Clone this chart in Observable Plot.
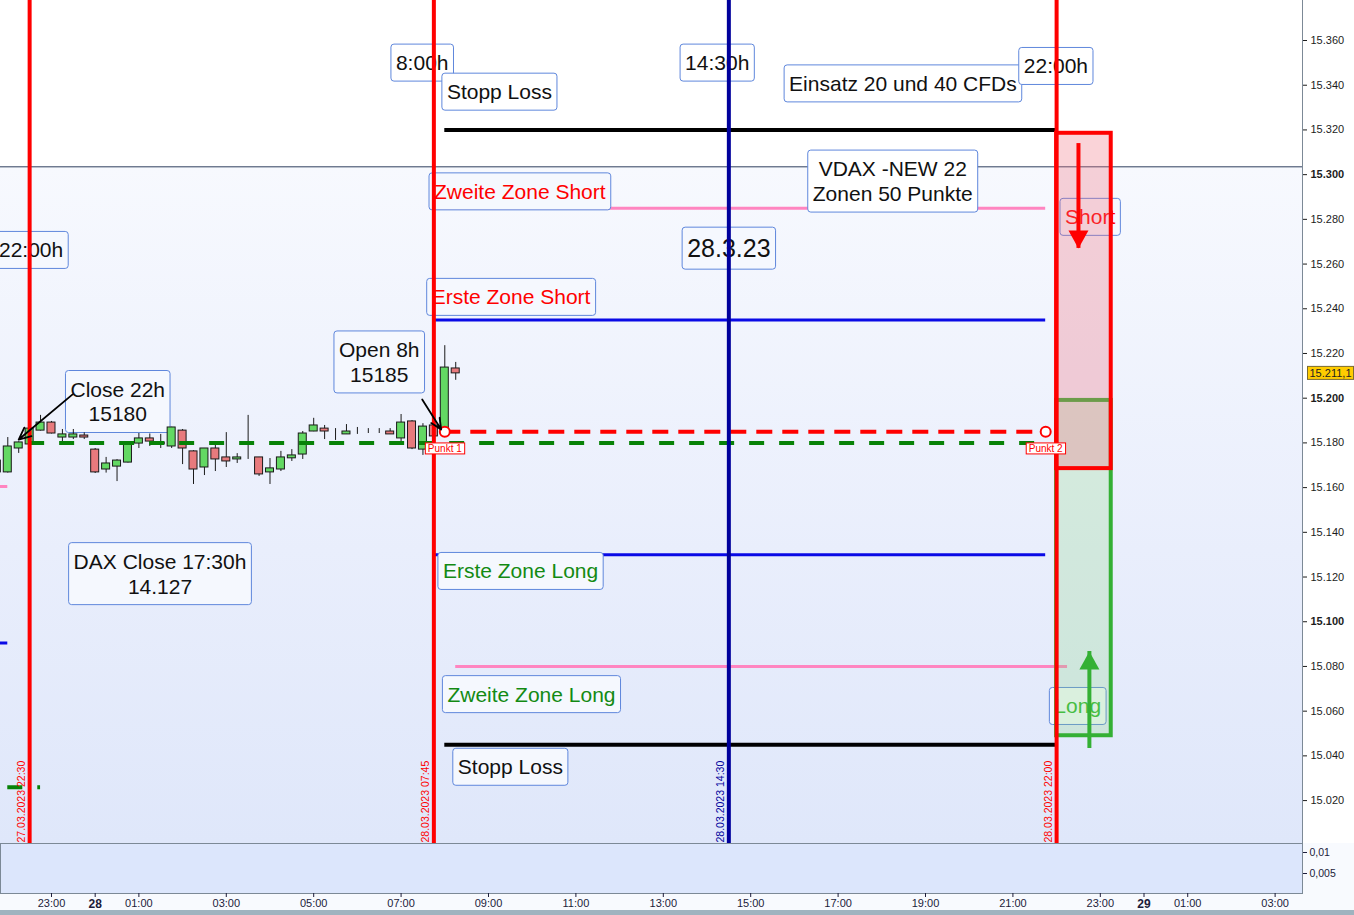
<!DOCTYPE html>
<html>
<head>
<meta charset="utf-8">
<script src="https://cdn.jsdelivr.net/npm/d3@7"></script>
<script src="https://cdn.jsdelivr.net/npm/@observablehq/plot@0.6"></script>
<style>
  html, body { margin: 0; padding: 0; background: #ffffff; }
  #chart { width: 1354px; height: 915px; overflow: hidden; }
  #chart svg { display: block; max-width: none; }
</style>
</head>
<body>
<div id="chart"></div>
<script>
const FONT = "'Liberation Sans', Arial, sans-serif";
const T = s => new Date(s + "Z");

// 15-minute DAX candles, 27.03.2023 21:45 – 28.03.2023 08:15
const candleTime = [
  "2023-03-27T21:45","2023-03-27T22:00","2023-03-27T22:15","2023-03-27T22:30","2023-03-27T22:45",
  "2023-03-27T23:00","2023-03-27T23:15","2023-03-27T23:30","2023-03-27T23:45",
  "2023-03-28T00:00","2023-03-28T00:15","2023-03-28T00:30","2023-03-28T00:45",
  "2023-03-28T01:00","2023-03-28T01:15","2023-03-28T01:30","2023-03-28T01:45",
  "2023-03-28T02:00","2023-03-28T02:15","2023-03-28T02:30","2023-03-28T02:45",
  "2023-03-28T03:00","2023-03-28T03:15","2023-03-28T03:30","2023-03-28T03:45",
  "2023-03-28T04:00","2023-03-28T04:15","2023-03-28T04:30","2023-03-28T04:45",
  "2023-03-28T05:00","2023-03-28T05:15","2023-03-28T05:30","2023-03-28T05:45",
  "2023-03-28T06:00","2023-03-28T06:15","2023-03-28T06:30","2023-03-28T06:45",
  "2023-03-28T07:00","2023-03-28T07:15","2023-03-28T07:30","2023-03-28T07:45",
  "2023-03-28T08:00","2023-03-28T08:15"
];
const candleOpen = [
  15166.8, 15166.8, 15177.5, 15179.3, 15185.5,
  15189.1, 15182.4, 15182.4, 15183.3,
  15177.0, 15168.1, 15169.4, 15171.2,
  15179.7, 15182.0, 15180.2, 15178.4,
  15185.5, 15176.2, 15169.0, 15177.5,
  15173.5, 15172.6, 15173.0, 15173.5,
  15166.8, 15168.1, 15173.1, 15174.8,
  15185.1, 15186.4, 15184.6, 15183.8,
  15185.5, 15185.5, 15185.3, 15185.1,
  15182.0, 15189.6, 15177.0, 15187.8,
  15185.0, 15213.3
];
const candleHigh = [
  15173.0, 15182.4, 15180.5, 15187.0, 15192.3,
  15189.6, 15186.0, 15186.0, 15184.5,
  15177.5, 15173.5, 15172.5, 15180.0,
  15184.2, 15184.0, 15183.8, 15187.0,
  15186.0, 15176.5, 15177.5, 15179.3,
  15184.6, 15175.2, 15192.3, 15173.5,
  15173.0, 15176.2, 15177.0, 15185.1,
  15191.0, 15187.8, 15186.4, 15188.2,
  15186.9, 15186.4, 15186.4, 15186.4,
  15192.7, 15190.0, 15188.6, 15188.0,
  15223.5, 15216.0
];
const candleLow = [
  15166.0, 15166.5, 15175.3, 15179.0, 15185.3,
  15184.0, 15179.3, 15181.5, 15181.5,
  15166.3, 15166.5, 15162.7, 15171.0,
  15177.5, 15178.4, 15177.5, 15177.5,
  15170.3, 15161.4, 15165.4, 15167.2,
  15169.0, 15170.8, 15172.6, 15165.0,
  15161.4, 15167.2, 15171.7, 15172.6,
  15185.0, 15181.5, 15181.1, 15183.8,
  15183.8, 15184.2, 15184.2, 15183.8,
  15179.3, 15177.0, 15174.4, 15182.4,
  15185.0, 15208.0
];
const candleClose = [
  15172.1, 15178.4, 15180.2, 15186.4, 15189.1,
  15184.2, 15183.8, 15183.8, 15182.4,
  15166.8, 15170.8, 15172.1, 15179.7,
  15182.0, 15180.6, 15179.3, 15186.9,
  15177.5, 15168.1, 15177.5, 15172.6,
  15171.7, 15173.5, 15173.0, 15165.9,
  15168.6, 15173.5, 15174.4, 15184.2,
  15187.8, 15185.1, 15184.6, 15185.1,
  15185.5, 15185.5, 15185.3, 15183.8,
  15189.1, 15177.5, 15187.3, 15182.9,
  15213.7, 15211.1
];

// Trading zones for 28.03.2023 (VDAX-NEW 22 -> zones of 50 points)
const levelName  = ["Stopp Loss Short", "Zweite Zone Short", "Erste Zone Short", "Erste Zone Long", "Zweite Zone Long", "Stopp Loss Long"];
const levelKind  = ["stop", "second", "first", "first", "second", "stop"];
const levelPrice = [15320, 15285, 15235, 15130, 15080, 15045];
const levelStart = ["2023-03-28T08:00", "2023-03-28T07:45", "2023-03-28T07:45", "2023-03-28T07:45", "2023-03-28T08:15", "2023-03-28T08:00"];
const levelEnd   = ["2023-03-28T22:00", "2023-03-28T21:45", "2023-03-28T21:45", "2023-03-28T21:45", "2023-03-28T22:15", "2023-03-28T22:00"];

// Leftovers of the previous session's zones
const priorKind  = ["second", "first"];
const priorPrice = [15160.5, 15090.5];
const priorStart = ["2023-03-27T14:30", "2023-03-27T14:30"];
const priorEnd   = ["2023-03-27T22:00", "2023-03-27T22:00"];
const priorDashPrice = 15026;
const priorDashSpan = ["2023-03-27T22:00", "2023-03-27T22:45"];
const dayLine = 15303.5;

// Reference prices: Close 22h and Open 8h
const closeRef = 15180, closeSpan = ["2023-03-27T22:30", "2023-03-28T21:45"];
const openRef = 15185, openSpan = ["2023-03-28T08:00", "2023-03-28T21:45"];
const punktLabel = ["Punkt 1", "Punkt 2"];
const punktTime = ["2023-03-28T08:00", "2023-03-28T21:45"];

// Vertical time markers
const markerTime = ["2023-03-27T22:30", "2023-03-28T07:45", "2023-03-28T14:30", "2023-03-28T22:00"];
const markerKind = ["session", "session", "us", "session"];

// Target zones at the session end
const zoneName = ["Short", "Long"];
const zoneStart = ["2023-03-28T22:00", "2023-03-28T22:00"];
const zoneEnd = ["2023-03-28T23:15", "2023-03-28T23:15"];
const zoneTop = [15318.5, 15199];
const zoneBottom = [15168.5, 15049];
const zoneArrowTime = ["2023-03-28T22:30", "2023-03-28T22:45"];
const zoneArrowFrom = [15313.9, 15043.3];
const zoneArrowTo = [15267.0, 15086.7];

// Annotations
const labelText = [
  "8:00h", "Stopp Loss", "14:30h", "Einsatz 20 und 40 CFDs", "22:00h",
  "VDAX -NEW 22\nZonen 50 Punkte", "Zweite Zone Short", "Short", "28.3.23", "22:00h",
  "Erste Zone Short", "Open 8h\n15185", "Close 22h\n15180", "DAX Close 17:30h\n14.127",
  "Erste Zone Long", "Zweite Zone Long", "Long", "Stopp Loss"
];
const labelTime = [
  "2023-03-28T07:29", "2023-03-28T09:15", "2023-03-28T14:14", "2023-03-28T18:29", "2023-03-28T21:59",
  "2023-03-28T18:15", "2023-03-28T09:43", "2023-03-28T22:46", "2023-03-28T14:30", "2023-03-27T22:32",
  "2023-03-28T09:31", "2023-03-28T06:30", "2023-03-28T00:31", "2023-03-28T01:29",
  "2023-03-28T09:44", "2023-03-28T09:59", "2023-03-28T22:29", "2023-03-28T09:30"
];
const labelPrice = [
  15349, 15336, 15349, 15339.7, 15347.5,
  15296, 15291.4, 15280, 15266, 15265.2,
  15244.2, 15215.1, 15197.4, 15120.4,
  15121.6, 15066.5, 15061.2, 15034
];
const labelRole = [
  "info", "info", "info", "info", "info",
  "info", "short", "shortZone", "date", "info",
  "short", "info", "info", "info",
  "long", "long", "longZone", "info"
];
const pointerFromTime = ["2023-03-27T23:29", "2023-03-28T07:29"];
const pointerFromPrice = [15201.7, 15199.4];
const pointerToTime = ["2023-03-27T22:15", "2023-03-28T07:55"];
const pointerToPrice = [15181.5, 15186];

// Time axis
const hourTicks = [
  "2023-03-27T23:00", "2023-03-28T01:00", "2023-03-28T03:00", "2023-03-28T05:00", "2023-03-28T07:00",
  "2023-03-28T09:00", "2023-03-28T11:00", "2023-03-28T13:00", "2023-03-28T15:00", "2023-03-28T17:00",
  "2023-03-28T19:00", "2023-03-28T21:00", "2023-03-28T23:00", "2023-03-29T01:00", "2023-03-29T03:00"
];
const dayTicks = ["2023-03-28T00:00", "2023-03-29T00:00"];
const priceTicks = [15020, 15040, 15060, 15080, 15100, 15120, 15140, 15160, 15180, 15200,
                    15220, 15240, 15260, 15280, 15300, 15320, 15340, 15360, 15380];
const volumeTicks = [0.005, 0.01];

// ---- build tables -------------------------------------------------------
const candles = candleTime.map((t, i) => ({
  t: T(t), open: candleOpen[i], high: candleHigh[i], low: candleLow[i], close: candleClose[i]
}));
const halfBody = 5.5 * 60e3; // half the candle body width, in ms
const body = {
  x1: d => new Date(+d.t - halfBody), x2: d => new Date(+d.t + halfBody),
  y1: "open", y2: "close", stroke: "#1a1a1a", strokeWidth: 1, clip: true
};
const levels = levelName.map((n, i) => ({name: n, kind: levelKind[i], price: levelPrice[i], start: T(levelStart[i]), end: T(levelEnd[i])}));
const prior = priorKind.map((k, i) => ({kind: k, price: priorPrice[i], start: T(priorStart[i]), end: T(priorEnd[i])}));
const markers = markerTime.map((t, i) => ({t: T(t), kind: markerKind[i]}));
const zones = zoneName.map((n, i) => ({name: n, start: T(zoneStart[i]), end: T(zoneEnd[i]), top: zoneTop[i], bottom: zoneBottom[i],
  at: T(zoneArrowTime[i]), from: zoneArrowFrom[i], to: zoneArrowTo[i]}));
const labels = labelText.map((s, i) => ({text: s, t: T(labelTime[i]), p: labelPrice[i], role: labelRole[i]}));
const pointers = pointerFromTime.map((t, i) => ({t1: T(t), p1: pointerFromPrice[i], t2: T(pointerToTime[i]), p2: pointerToPrice[i]}));
const punkte = punktLabel.map((s, i) => ({text: s, t: T(punktTime[i]), p: openRef}));

const de = d3.formatLocale({decimal: ",", thousands: ".", grouping: [3], currency: ["", " €"]});
const fmtPrice = de.format(",d");
const fmtTag = de.format(",.1f");
const fmtSmall = de.format("~g");
const fmtStamp = d3.utcFormat("%d.%m.%Y %H:%M");
const fmtHour = d3.utcFormat("%H:%M");
const fmtDay = d3.utcFormat("%-d");

const xDomain = [T("2023-03-27T21:50"), T("2023-03-29T03:37:36")];
const yDomain = [15000.8, 15377.9];
const lastClose = candleClose[candleClose.length - 1];

const C = {
  up: "#63d863", down: "#e87a7d", red: "#ff0000", navy: "#00009c", blue: "#0a0ae6",
  pink: "#ff85c0", black: "#000000", green: "#078207", zoneGreen: "#34b034", text: "#111111"
};
const roleFill = {info: C.text, date: C.text, short: C.red, shortZone: C.red, long: "#138a13", longZone: "#2fb52f"};
const labelMark = (role, extra = {}) => Plot.text(labels.filter(d => d.role === role), {
  x: "t", y: "p", text: "text", fill: roleFill[role], fontSize: 21, lineHeight: 1.19,
  lineAnchor: "middle", textAnchor: "middle", dy: -3, ...extra
});

// ---- main price panel ---------------------------------------------------
const main = Plot.plot({
  width: 1354, height: 843,
  marginTop: 0, marginRight: 52, marginBottom: 0, marginLeft: 0,
  x: {type: "utc", domain: xDomain, axis: null},
  y: {domain: yDomain, axis: null},
  style: {fontFamily: FONT, background: "transparent", color: "#1c1c1c"},
  marks: [
    Plot.ruleY([dayLine], {stroke: "#30405e", strokeWidth: 1}),
    // previous session leftovers
    Plot.ruleY(prior.filter(d => d.kind === "second"), {y: "price", x1: "start", x2: "end", stroke: C.pink, strokeWidth: 3, clip: true}),
    Plot.ruleY(prior.filter(d => d.kind === "first"), {y: "price", x1: "start", x2: "end", stroke: C.blue, strokeWidth: 3, clip: true}),
    Plot.ruleY([priorDashPrice], {x1: () => T(priorDashSpan[0]), x2: () => T(priorDashSpan[1]), stroke: C.green, strokeWidth: 4, strokeDasharray: "15,15"}),
    // zones of the day
    Plot.ruleY(levels.filter(d => d.kind === "second"), {y: "price", x1: "start", x2: "end", stroke: C.pink, strokeWidth: 3}),
    Plot.ruleY(levels.filter(d => d.kind === "first"), {y: "price", x1: "start", x2: "end", stroke: C.blue, strokeWidth: 3}),
    Plot.ruleY(levels.filter(d => d.kind === "stop"), {y: "price", x1: "start", x2: "end", stroke: C.black, strokeWidth: 4}),
    // annotations (framed afterwards)
    labelMark("info"),
    labelMark("date", {fontSize: 25}),
    labelMark("short"),
    labelMark("long"),
    labelMark("shortZone"),
    labelMark("longZone"),
    // target zones
    Plot.rect(zones.filter(d => d.name === "Long"), {x1: "start", x2: "end", y1: "bottom", y2: "top",
      fill: "rgb(139,214,127)", fillOpacity: 0.25, stroke: C.zoneGreen, strokeWidth: 4}),
    Plot.rect(zones.filter(d => d.name === "Short"), {x1: "start", x2: "end", y1: "bottom", y2: "top",
      fill: "rgb(240,110,125)", fillOpacity: 0.3, stroke: C.red, strokeWidth: 4}),
    // candles
    Plot.ruleX(candles, {x: "t", y1: "low", y2: "high", stroke: "#1a1a1a", strokeWidth: 1, clip: true}),
    Plot.rect(candles.filter(d => d.close > d.open), {...body, fill: C.up}),
    Plot.rect(candles.filter(d => d.close < d.open), {...body, fill: C.down}),
    Plot.rect(candles.filter(d => d.close === d.open), {...body, fill: "#1a1a1a"}),
    // reference lines
    Plot.ruleY([closeRef], {x1: () => T(closeSpan[0]), x2: () => T(closeSpan[1]), stroke: C.green, strokeWidth: 4, strokeDasharray: "15,15"}),
    Plot.ruleY([openRef], {x1: () => T(openSpan[0]), x2: () => T(openSpan[1]), stroke: C.red, strokeWidth: 4, strokeDasharray: "16,10"}),
    // vertical time markers
    Plot.ruleX(markers.filter(d => d.kind === "session"), {x: "t", stroke: C.red, strokeWidth: 4}),
    Plot.ruleX(markers.filter(d => d.kind === "us"), {x: "t", stroke: C.navy, strokeWidth: 4}),
    Plot.text(markers.filter(d => d.kind === "session"), {x: "t", frameAnchor: "bottom", text: d => fmtStamp(d.t),
      rotate: -90, textAnchor: "start", dx: -5, dy: -1, fill: C.red, fontSize: 10.5}),
    Plot.text(markers.filter(d => d.kind === "us"), {x: "t", frameAnchor: "bottom", text: d => fmtStamp(d.t),
      rotate: -90, textAnchor: "start", dx: -5, dy: -1, fill: C.navy, fontSize: 10.5}),
    // zone arrows
    Plot.ruleX(zones.filter(d => d.name === "Short"), {x: "at", y1: "from", y2: "to", stroke: C.red, strokeWidth: 4}),
    Plot.dot(zones.filter(d => d.name === "Short"), {x: "at", y: "to", fill: C.red, stroke: "none",
      symbol: {draw(ctx) { ctx.moveTo(-10, -18); ctx.lineTo(10, -18); ctx.lineTo(0, 0); ctx.closePath(); }}}),
    Plot.ruleX(zones.filter(d => d.name === "Long"), {x: "at", y1: "from", y2: "to", stroke: C.zoneGreen, strokeWidth: 4}),
    Plot.dot(zones.filter(d => d.name === "Long"), {x: "at", y: "to", fill: C.zoneGreen, stroke: "none",
      symbol: {draw(ctx) { ctx.moveTo(-10, 18); ctx.lineTo(10, 18); ctx.lineTo(0, 0); ctx.closePath(); }}}),
    // Punkt 1 / Punkt 2
    Plot.dot(punkte, {x: "t", y: "p", r: 5, fill: "white", stroke: C.red, strokeWidth: 2}),
    Plot.text(punkte, {x: "t", y: "p", text: "text", dy: 17, fill: C.red, fontSize: 10}),
    // pointers from the text boxes
    Plot.arrow(pointers, {x1: "t1", y1: "p1", x2: "t2", y2: "p2", stroke: "#000", strokeWidth: 1.8, headLength: 11, headAngle: 50}),
    // price scale on the right
    Plot.ruleX([xDomain[1]], {stroke: "#7c8996", strokeWidth: 1}),
    Plot.axisY(priceTicks.filter(v => v % 100 !== 0), {anchor: "right", tickSize: 4, tickPadding: 4, fontSize: 11, tickFormat: fmtPrice, label: null}),
    Plot.axisY(priceTicks.filter(v => v % 100 === 0), {anchor: "right", tickSize: 4, tickPadding: 4, fontSize: 11, fontWeight: "bold", tickFormat: fmtPrice, label: null}),
    Plot.text([lastClose], {y: d => d, frameAnchor: "right", text: d => fmtTag(d), dx: 7, textAnchor: "start", fontSize: 11, fill: "#222"})
  ]
});

// ---- lower indicator panel with the time axis ---------------------------
const lower = Plot.plot({
  width: 1354, height: 72,
  marginTop: 0, marginRight: 52, marginBottom: 22, marginLeft: 0,
  x: {type: "utc", domain: xDomain, axis: null},
  y: {domain: [0.00024, 0.01214], axis: null},
  style: {fontFamily: FONT, background: "transparent", color: "#1c1c3a"},
  marks: [
    Plot.frame({fill: "#dce6fc", stroke: "#7c8996"}),
    Plot.axisY(volumeTicks, {anchor: "right", tickSize: 4, tickPadding: 3, fontSize: 10.5, tickFormat: fmtSmall, label: null}),
    Plot.axisX(hourTicks.map(T), {anchor: "bottom", tickSize: 4, tickPadding: 2, fontSize: 11, tickFormat: fmtHour, label: null}),
    Plot.axisX(dayTicks.map(T), {anchor: "bottom", tickSize: 4, tickPadding: 2, fontSize: 12, fontWeight: "bold", tickFormat: fmtDay, label: null})
  ]
});

const chart = document.getElementById("chart");
chart.appendChild(main);
chart.appendChild(lower);

// background bands: white above the day line, light blue gradient below
const splitY = main.scale("y").apply(dayLine);
const rightX = main.scale("x").apply(xDomain[1]);
main.style.background =
  `linear-gradient(to right, transparent ${rightX}px, #ffffff ${rightX}px),` +
  `linear-gradient(to bottom, #ffffff 0px, #ffffff ${splitY}px, #f7f9fe ${splitY}px, #e9eefc 550px, #dfe7fa 843px)`;
lower.style.background = "linear-gradient(to bottom, #f8fafe 0px, #f8fafe 67px, #9fb3bf 67px)";

// frames behind annotation texts, found by their content
const NS = "http://www.w3.org/2000/svg";
function frameTexts(svg, wanted, s) {
  const host = svg.getBoundingClientRect();
  const layers = new Map();
  svg.querySelectorAll("text").forEach(t => {
    if (!wanted.has(t.textContent)) return;
    const g = t.parentNode;
    let layer = layers.get(g);
    if (!layer) {
      layer = document.createElementNS(NS, "g");
      g.parentNode.insertBefore(layer, g);
      layers.set(g, layer);
    }
    const b = t.getBoundingClientRect();
    const r = document.createElementNS(NS, "rect");
    const x = b.left - host.left - s.padX, y = b.top - host.top - s.padY;
    r.setAttribute("x", x);
    r.setAttribute("y", y);
    r.setAttribute("width", b.width + 2 * s.padX);
    r.setAttribute("height", b.height + 2 * s.padY);
    r.setAttribute("rx", s.rx);
    r.setAttribute("fill", typeof s.fill === "function" ? s.fill(y) : s.fill);
    r.setAttribute("stroke", s.stroke);
    r.setAttribute("stroke-width", s.strokeWidth);
    layer.appendChild(r);
  });
}
frameTexts(main, new Set(labelText.map(s => s.replace(/\n/g, ""))),
  {padX: 5, padY: 7, rx: 3, stroke: "#5f87dc", strokeWidth: 1, fill: y => (y < splitY ? "#ffffff" : "#f5f8fe")});
frameTexts(main, new Set(punktLabel), {padX: 2.5, padY: 0, rx: 0, stroke: "#ff0000", strokeWidth: 1, fill: "#ffffff"});
frameTexts(main, new Set([fmtTag(lastClose)]), {padX: 2, padY: 0.5, rx: 0, stroke: "#7a6a30", strokeWidth: 1, fill: "#ffcc00"});
</script>
</body>
</html>
